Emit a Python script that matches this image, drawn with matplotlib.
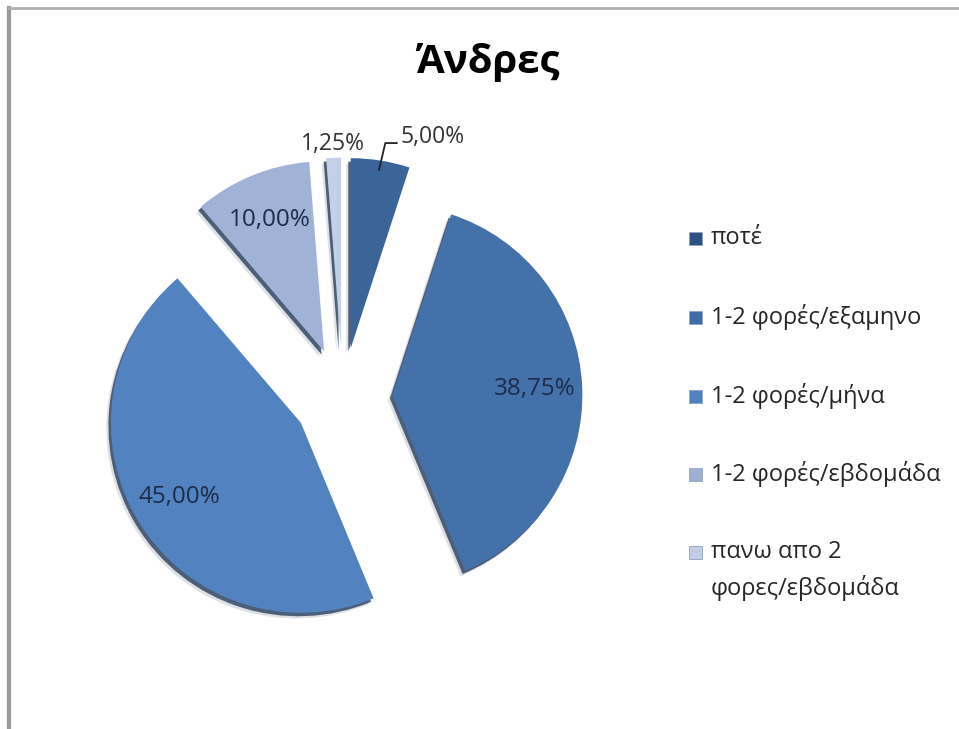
import matplotlib.pyplot as plt
from matplotlib.patches import Wedge, Rectangle
from matplotlib.lines import Line2D
import numpy as np

# Data
categories = ["ποτέ", "1-2 φορές/εξαμηνο", "1-2 φορές/μήνα",
              "1-2 φορές/εβδομάδα", "πανω απο 2\nφορες/εβδομάδα"]
values = [5.00, 38.75, 45.00, 10.00, 1.25]
slice_colors = ["#3b6498", "#4571aa", "#5283c0", "#a0b2d5", "#c4d0e7"]
legend_colors = ["#2d5183", "#3f6ca6", "#4f82c2", "#9fb1d3", "#c2cde3"]
title = "Άνδρες"

W, H = 959, 729
CX, CY, R_PX = 343, 397, 190   # pie centre and radius in pixels

plt.rcParams['font.family'] = ['Open Sans', 'DejaVu Sans']


def fx(px):
    return px / W


def fy(py):
    return 1 - py / H


def fmt_pct(pct):
    return f"{pct:.2f}%".replace(".", ",")


fig = plt.figure(figsize=(W / 100, H / 100), dpi=100)
fig.patch.set_facecolor("white")
ax = fig.add_axes([0, 0, 1, 1])

wedges, texts, autotexts = ax.pie(
    values, colors=slice_colors, startangle=90, counterclock=False,
    explode=[0.26] * len(values), autopct=fmt_pct, pctdistance=0.75,
    radius=1, wedgeprops=dict(linewidth=0, zorder=3),
    textprops=dict(fontsize=17.5, color="#1c2c4a"))

ax.set_xlim(-CX / R_PX, (W - CX) / R_PX)
ax.set_ylim(-(H - CY) / R_PX, CY / R_PX)
ax.set_aspect('auto')
ax.axis('off')

# soft dark shadow down-left of every slice
for w in wedges:
    cx, cy = w.center
    for dx, dy, a in [(-0.024, -0.030, 0.15), (-0.013, -0.018, 0.75)]:
        ax.add_patch(Wedge((cx + dx, cy + dy), w.r, w.theta1, w.theta2,
                           facecolor="#1d3354", edgecolor="none", alpha=a,
                           zorder=2))

for t in autotexts:
    t.set_zorder(5)

# small slices get their labels outside
for i in (0, 4):
    w = wedges[i]
    cx, cy = w.center
    mid = np.deg2rad((w.theta1 + w.theta2) / 2)
    t = autotexts[i]
    t.set_color("#333333")
    t.set_fontsize(16.5)
    if i == 4:
        t.set_position((cx + 1.07 * np.cos(mid), cy + 1.07 * np.sin(mid)))
    else:
        p1 = (cx + 0.95 * np.cos(mid), cy + 0.95 * np.sin(mid))
        p2 = (cx + 1.095 * np.cos(mid - 0.01), cy + 1.095 * np.sin(mid - 0.01))
        p3 = (p2[0] + 0.06, p2[1])
        ax.plot([p1[0], p2[0], p3[0]], [p1[1], p2[1], p3[1]],
                color="#222222", lw=1.3, zorder=5)
        t.set_ha("left")
        t.set_position((p3[0] + 0.02, p3[1] + 0.03))

fig.text(fx(488), fy(62), title, ha="center", va="center",
         fontsize=29, fontweight="bold", color="black")

# legend
leg_y = [238, 317, 396, 474, 552]
line_gap = 36
for lab, col, y in zip(categories, legend_colors, leg_y):
    fig.add_artist(Rectangle((fx(689), fy(y + 7)), 13 / W, 13 / H,
                             transform=fig.transFigure, facecolor=col,
                             edgecolor="#8fa3c2", lw=0.6))
    for k, line in enumerate(lab.split("\n")):
        fig.text(fx(711), fy(y + k * line_gap), line, ha="left", va="center",
                 fontsize=17, color="#262626")

# chart frame edges
fig.add_artist(Line2D([fx(9), fx(9)], [0, fy(8)], transform=fig.transFigure,
                      color="#9a9a9a", lw=3))
fig.add_artist(Line2D([fx(9), 1], [fy(8), fy(8)], transform=fig.transFigure,
                      color="#b0b0b0", lw=2))

fig.savefig("out.png", dpi=100)
plt.close(fig)
